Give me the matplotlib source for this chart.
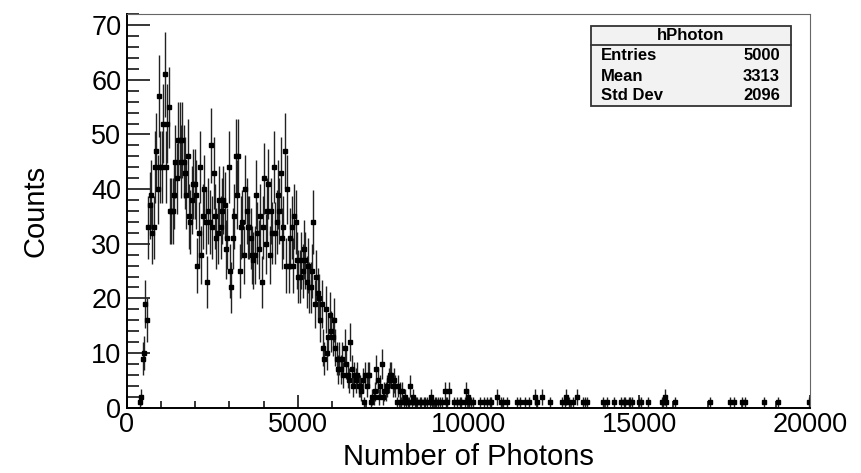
import numpy as np
import matplotlib
matplotlib.use("Agg")
import matplotlib.pyplot as plt
from matplotlib.ticker import MultipleLocator

# histogram: 500 bins of width 40 from 0 to 20000
bin_width = 40
n_bins = 500

# dense part, bins 0..154
counts_head = [
  0, 0, 0, 0, 0, 0, 0, 0, 0, 1,
  2, 9, 10, 19, 16, 33, 37, 39, 32, 33,
  44, 47, 40, 57, 44, 44, 52, 61, 44, 52,
  55, 36, 36, 36, 39, 45, 42, 49, 49, 45,
  49, 45, 43, 39, 46, 35, 34, 38, 41, 41,
  39, 26, 32, 44, 28, 35, 40, 34, 23, 36,
  34, 48, 33, 43, 35, 31, 32, 38, 33, 36,
  38, 37, 29, 31, 44, 25, 22, 31, 35, 46,
  39, 46, 25, 33, 34, 28, 40, 36, 33, 33,
  31, 28, 27, 28, 39, 32, 29, 35, 23, 33,
  42, 30, 36, 41, 28, 36, 32, 44, 32, 34,
  39, 36, 43, 31, 33, 47, 26, 40, 26, 31,
  33, 26, 35, 34, 27, 24, 24, 27, 25, 29,
  27, 23, 26, 22, 22, 25, 34, 19, 24, 21,
  20, 16, 19, 11, 9, 18, 10, 13, 17, 14,
  13, 16, 11, 9, 7,
]

# falling edge, bins 155..235
counts_edge = [
  9, 7, 9, 6, 11, 8, 6, 5, 12, 7,
  4, 6, 5, 6, 4, 4, 3, 5, 1, 6,
  4, 6, 6, 1, 2, 2, 3, 7, 5, 2,
  4, 8, 2, 3, 3, 4, 5, 6, 6, 4,
  5, 4, 1, 4, 3, 1, 3, 1, 2, 1,
  1, 1, 4, 1, 2, 1, 1, 1, 0, 1,
  1, 0, 1, 1, 1, 0, 1, 2, 1, 0,
  1, 1, 1, 0, 1, 1, 0, 3, 1, 1,
  3,
]

# sparse tail: bin index and content of the non-empty bins
tail_bins = [239, 241, 243, 244, 247, 248, 249, 250, 251, 253, 258, 261, 263,
             265, 266, 270, 273, 275, 278, 285, 287, 291, 294, 298, 300, 303,
             309, 318, 320, 321, 323, 326, 329, 333, 335, 336, 348, 351, 356,
             361, 363, 364, 367, 368, 369, 374, 376, 381, 391, 392, 393, 394,
             401, 426, 441, 444, 450, 452, 466, 476, 499]
tail_counts = [1, 1, 1, 1, 1, 3, 2, 1, 1, 1, 1, 1, 1,
               1, 1, 2, 1, 1, 1, 1, 1, 1, 1, 2, 1, 2,
               1, 1, 1, 2, 1, 1, 2, 1, 1, 1, 1, 1, 1,
               1, 1, 1, 1, 1, 1, 1, 1, 1, 1, 1, 2, 1,
               1, 1, 1, 1, 1, 1, 1, 1, 1]

stats_labels = ["Entries", "Mean", "Std Dev"]
stats_values = ["5000", "3313", "2096"]

counts = np.zeros(n_bins)
counts[:len(counts_head)] = counts_head
counts[len(counts_head):len(counts_head) + len(counts_edge)] = counts_edge
counts[tail_bins] = tail_counts

centers = (np.arange(n_bins) + 0.5) * bin_width
mask = counts > 0

plt.rcParams['font.family'] = ['Liberation Sans', 'DejaVu Sans']
fig = plt.figure(figsize=(8.62, 4.73), dpi=100)
ax = fig.add_axes([0.1473, 0.138, 0.7924, 0.832])

ax.errorbar(centers[mask], counts[mask], yerr=np.sqrt(counts[mask]),
            xerr=bin_width / 2, fmt='s', ms=2.6, color='black',
            ecolor='#222222', elinewidth=1.0, capsize=0)

ax.set_xlim(0, 20000)
ax.set_ylim(0, 72)
ax.xaxis.set_major_locator(MultipleLocator(5000))
ax.xaxis.set_minor_locator(MultipleLocator(1000))
ax.yaxis.set_major_locator(MultipleLocator(10))
ax.yaxis.set_minor_locator(MultipleLocator(2))
ax.tick_params(axis='both', which='both', direction='in', labelsize=19.5,
               top=False, right=False)
ax.tick_params(axis='y', which='major', length=16.5, width=1.1, pad=4)
ax.tick_params(axis='y', which='minor', length=8.5, width=1.1)
ax.tick_params(axis='x', which='major', length=9.5, width=1.1, pad=3)
ax.tick_params(axis='x', which='minor', length=5, width=1.1)
for side in ['left', 'bottom']:
  ax.spines[side].set_linewidth(1.4)
for side in ['top', 'right']:
  ax.spines[side].set_linewidth(0.8)
  ax.spines[side].set_color('#666666')

ax.set_xlabel("Number of Photons", fontsize=21, labelpad=4)
ax.set_ylabel("Counts", fontsize=21, labelpad=30)

# stats box
bx0, bx1 = 590.7 / 862, 790.7 / 862
by_top, by_line, by_bot = 1 - 25.7 / 473, 1 - 45 / 473, 1 - 106 / 473
fig.patches.append(plt.Rectangle((bx0, by_bot), bx1 - bx0, by_top - by_bot,
                                 transform=fig.transFigure, facecolor='#f2f2f2',
                                 edgecolor='#333333', linewidth=1.3))
fig.lines.append(plt.Line2D([bx0, bx1], [by_line, by_line],
                            transform=fig.transFigure, color='#333333', lw=1.3))
fig.text((bx0 + bx1) / 2, 1 - 36 / 473, "hPhoton", ha='center', va='center',
         fontsize=12, fontweight='bold')
for i, (lab, val) in enumerate(zip(stats_labels, stats_values)):
  yy = 1 - (56 + 20 * i) / 473
  fig.text(600.7 / 862, yy, lab, ha='left', va='center', fontsize=12,
           fontweight='bold')
  fig.text(780 / 862, yy, val, ha='right', va='center', fontsize=12,
           fontweight='bold')

fig.savefig("out.png", dpi=100)
